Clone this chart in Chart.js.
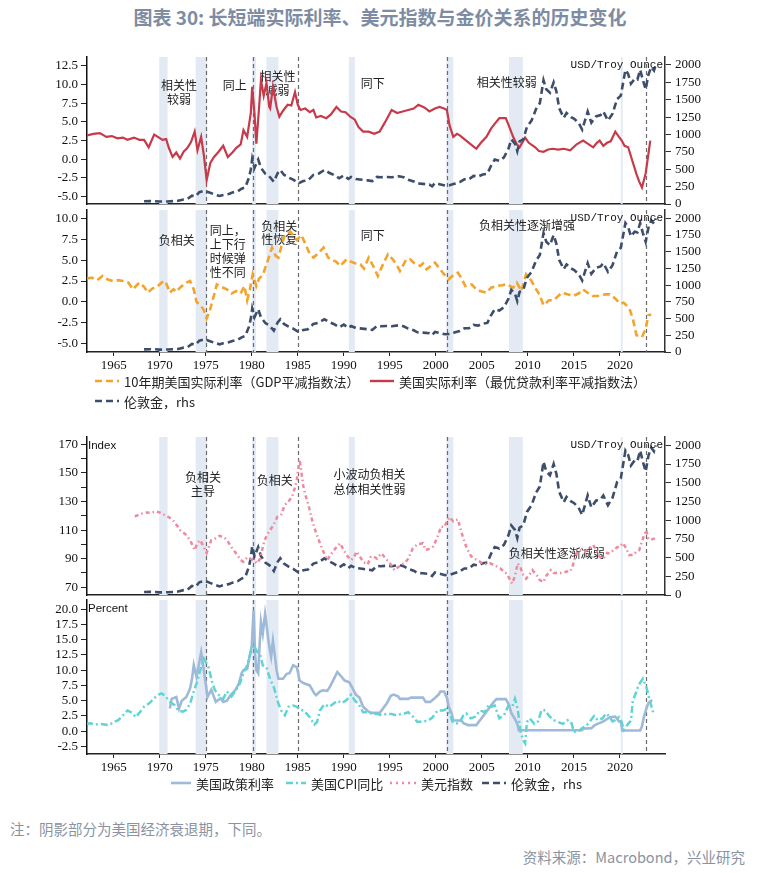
<!DOCTYPE html>
<html>
<head>
<meta charset="utf-8">
<script src="https://cdn.jsdelivr.net/npm/chart.js@4.4.1/dist/chart.umd.min.js"></script>
<style>
  body { margin: 0; background: #fff; width: 760px; height: 873px; position: relative; overflow: hidden; font-family: "Noto Sans CJK SC", sans-serif; }
  canvas { position: absolute; left: 0; }
  .title { position: absolute; top: 3px; left: 0; width: 760px; text-align: center; font-size: 19px; font-weight: bold; color: #7d8ca3; }
  .lg { position: absolute; display: flex; align-items: center; font-size: 13px; color: #222; white-space: nowrap; height: 16px; }
  .lg span { margin-left: 5px; }
  .note { position: absolute; font-size: 14.5px; color: #8a93a1; white-space: nowrap; }
</style>
</head>
<body>
<div class="title">图表 30: 长短端实际利率、美元指数与金价关系的历史变化</div>
<canvas id="p1" width="760" height="175" style="top:43px"></canvas>
<canvas id="p2" width="760" height="182" style="top:196px"></canvas>
<canvas id="p3" width="760" height="186" style="top:423px"></canvas>
<canvas id="p4" width="760" height="194" style="top:586px"></canvas>
<div id="legends"></div>
<div class="note" style="left:10px;top:818px">注：阴影部分为美国经济衰退期，下同。</div>
<div class="note" style="right:15px;top:846px">资料来源：Macrobond，兴业研究</div>
<script>
// x axis (years) and shared markers
const yearTicks = [1965, 1970, 1975, 1980, 1985, 1990, 1995, 2000, 2005, 2010, 2015, 2020];
const recessions = [[1969.95, 1970.85], [1973.9, 1975.15], [1980.05, 1980.45], [1981.6, 1982.9],
  [1990.55, 1991.2], [2001.15, 2001.9], [2007.95, 2009.45], [2020.1, 2020.3]];
const regimeLines = [1975.0, 1980.1, 1985.0, 2001.25, 2022.8];

// 伦敦金 USD/Troy Ounce
const goldPrice = [[1968.3,40],[1969.0,42],[1969.5,40],[1970.0,35],[1970.8,37],[1971.5,41],[1972.0,46],[1972.6,65],
  [1973.0,70],[1973.5,120],[1973.9,110],[1974.3,170],[1974.9,190],[1975.4,165],[1975.9,140],[1976.5,115],[1976.9,130],
  [1977.5,145],[1977.9,165],[1978.5,185],[1978.9,220],[1979.3,240],[1979.7,380],[1979.9,500],[1980.05,650],[1980.3,520],
  [1980.7,640],[1981.0,520],[1981.5,430],[1981.9,400],[1982.4,320],[1982.8,440],[1983.1,490],[1983.5,420],[1984.0,380],
  [1984.5,350],[1985.1,300],[1985.6,330],[1986.1,340],[1986.7,420],[1987.3,440],[1987.9,490],[1988.4,450],[1988.9,420],
  [1989.5,370],[1990.0,410],[1990.5,360],[1990.8,390],[1991.3,360],[1992.0,350],[1992.6,340],[1993.1,330],[1993.6,390],
  [1994.0,385],[1994.6,390],[1995.2,385],[1996.0,400],[1996.5,385],[1997.0,350],[1997.6,325],[1998.0,295],[1998.6,290],
  [1999.3,280],[1999.6,255],[1999.9,300],[2000.4,285],[2001.0,265],[2001.5,270],[2002.0,290],[2002.6,315],[2003.1,355],
  [2003.6,355],[2004.1,405],[2004.6,395],[2005.1,425],[2005.6,435],[2006.0,550],[2006.4,640],[2006.9,620],[2007.4,670],
  [2007.9,800],[2008.2,930],[2008.6,870],[2008.85,760],[2009.1,900],[2009.5,930],[2009.9,1110],[2010.4,1200],[2010.9,1370],
  [2011.3,1450],[2011.7,1780],[2012.0,1650],[2012.4,1600],[2012.8,1750],[2013.1,1620],[2013.4,1380],[2013.9,1240],
  [2014.2,1310],[2014.7,1250],[2015.0,1230],[2015.5,1170],[2015.9,1070],[2016.5,1330],[2016.9,1170],[2017.4,1260],
  [2017.9,1280],[2018.2,1330],[2018.7,1200],[2019.2,1300],[2019.7,1510],[2020.1,1560],[2020.6,1930],[2020.9,1870],
  [2021.2,1730],[2021.6,1800],[2021.9,1790],[2022.2,1930],[2022.5,1780],[2022.8,1650],[2023.1,1860],[2023.4,1970],
  [2023.7,1920],[2023.9,2000]];

// 美国实际利率（最优贷款利率平减指数法）
const realPrimeRate = [[1962.1,3.2],[1962.8,3.4],[1963.5,3.5],[1964.2,3.0],[1964.8,3.1],[1965.4,2.8],[1966.0,2.9],
  [1966.5,2.6],[1967.2,2.9],[1967.8,2.6],[1968.3,2.6],[1968.8,1.6],[1969.4,3.3],[1969.8,3.0],[1970.3,2.6],[1970.7,2.7],
  [1971.0,1.5],[1971.4,0.3],[1971.8,0.9],[1972.2,0.1],[1972.6,1.0],[1973.0,1.5],[1973.4,2.3],[1973.8,3.7],[1974.1,1.2],
  [1974.5,3.0],[1974.8,0.5],[1975.1,-2.8],[1975.5,-0.5],[1975.9,0.3],[1976.4,1.0],[1976.9,1.8],[1977.4,0.3],[1977.9,0.9],
  [1978.3,1.5],[1978.8,2.0],[1979.1,3.9],[1979.5,3.0],[1979.9,6.2],[1980.05,9.7],[1980.3,6.0],[1980.5,2.1],[1980.8,7.0],
  [1981.0,10.6],[1981.3,8.5],[1981.6,10.2],[1981.9,7.0],[1982.0,6.8],[1982.3,9.7],[1982.7,7.0],[1983.0,5.7],[1983.4,6.5],
  [1983.9,7.3],[1984.3,7.2],[1984.7,9.0],[1985.0,7.3],[1985.3,6.6],[1985.8,6.8],[1986.3,6.3],[1986.7,6.6],[1987.0,5.6],
  [1987.5,5.8],[1988.1,5.5],[1988.6,6.0],[1989.2,7.0],[1989.7,6.4],[1990.2,6.3],[1990.7,5.7],[1991.2,5.3],[1991.6,4.3],
  [1992.1,3.7],[1992.7,3.7],[1993.3,3.4],[1993.9,3.7],[1994.5,5.0],[1995.2,6.6],[1995.8,6.2],[1996.4,6.4],[1997.0,6.6],
  [1997.6,6.8],[1998.1,7.3],[1998.8,6.9],[1999.3,6.4],[1999.9,6.8],[2000.4,7.0],[2000.9,6.8],[2001.2,6.6],[2001.5,4.5],
  [2001.9,3.0],[2002.3,3.4],[2002.6,3.2],[2003.2,2.6],[2003.8,2.0],[2004.4,1.4],[2004.9,2.2],[2005.5,3.0],[2006.0,4.1],
  [2006.5,4.9],[2006.9,5.5],[2007.6,5.5],[2007.9,4.6],[2008.4,3.0],[2008.8,2.0],[2009.1,1.6],[2009.7,2.9],[2010.1,2.2],
  [2010.8,1.6],[2011.2,1.1],[2011.7,1.0],[2012.2,1.3],[2012.7,1.4],[2013.3,1.3],[2013.9,1.4],[2014.6,1.2],[2015.3,2.0],
  [2016.0,2.5],[2016.5,2.1],[2017.1,1.6],[2017.5,2.2],[2017.8,2.5],[2018.2,1.8],[2018.6,2.2],[2019.0,2.4],[2019.5,3.7],
  [2019.9,3.0],[2020.2,2.5],[2020.5,1.8],[2020.9,1.6],[2021.3,0.0],[2021.8,-2.0],[2022.1,-3.0],[2022.4,-3.8],
  [2022.8,-1.9],[2023.3,2.5]];

// 10年期美国实际利率（GDP平减指数法）
const realTenYear = [[1962.1,2.8],[1962.6,2.9],[1963.2,2.6],[1963.8,3.1],[1964.3,2.7],[1964.9,2.5],[1965.5,2.6],
  [1966.0,2.5],[1966.6,2.3],[1967.1,1.5],[1967.5,2.0],[1967.8,2.3],[1968.3,1.8],[1968.7,1.1],[1969.2,1.6],[1969.7,1.8],
  [1970.2,2.3],[1970.6,2.5],[1971.1,1.1],[1971.5,1.5],[1971.8,1.2],[1972.2,1.7],[1972.7,2.2],[1973.3,2.5],[1973.7,1.5],
  [1974.0,0.0],[1974.5,-0.5],[1974.8,-1.0],[1975.1,-2.0],[1975.4,-1.2],[1975.6,-0.4],[1976.0,1.2],[1976.2,2.1],
  [1976.7,1.8],[1977.3,1.5],[1977.8,1.0],[1978.3,1.3],[1978.8,1.0],[1979.2,1.9],[1979.5,0.2],[1979.8,1.5],[1980.1,3.3],
  [1980.5,1.9],[1980.8,2.8],[1981.2,3.2],[1981.6,4.5],[1982.0,5.8],[1982.2,6.5],[1982.6,5.5],[1982.9,5.3],[1983.3,7.0],
  [1983.6,8.0],[1984.2,8.4],[1984.6,7.8],[1984.9,7.4],[1985.4,8.0],[1985.8,7.0],[1986.2,6.0],[1986.7,5.3],[1987.2,5.8],
  [1987.8,6.5],[1988.3,5.3],[1988.8,5.0],[1989.2,4.8],[1989.6,4.3],[1990.3,5.1],[1990.8,4.8],[1991.3,4.6],[1991.8,4.5],
  [1992.2,4.0],[1992.7,5.3],[1993.2,4.3],[1993.7,3.1],[1994.3,4.6],[1994.8,5.7],[1995.4,5.0],[1995.9,4.1],[1996.1,3.7],
  [1996.8,5.1],[1997.2,5.1],[1997.7,4.6],[1998.3,4.3],[1998.6,4.6],[1999.0,3.9],[1999.9,4.7],[2000.4,4.0],[2000.9,3.3],
  [2001.4,2.7],[2001.9,3.2],[2002.4,3.5],[2002.8,2.8],[2003.2,1.9],[2003.9,2.1],[2004.4,1.5],[2004.8,1.3],[2005.5,1.1],
  [2006.0,1.7],[2006.6,1.9],[2007.2,2.0],[2007.7,2.1],[2008.4,1.7],[2008.8,2.3],[2009.3,1.3],[2009.8,3.3],[2010.4,2.5],
  [2010.9,1.5],[2011.3,0.8],[2011.7,-0.4],[2012.3,0.2],[2012.8,0.2],[2013.2,0.6],[2013.7,1.1],[2014.3,0.9],[2014.9,0.7],
  [2015.5,1.0],[2016.0,1.5],[2016.6,1.0],[2017.1,0.7],[2017.8,0.7],[2018.4,0.9],[2018.9,0.9],[2019.5,0.4],[2020.0,-0.2],
  [2020.4,-0.1],[2020.7,-0.4],[2021.1,-1.0],[2021.4,-2.0],[2021.8,-4.0],[2022.4,-4.2],[2022.8,-3.2],[2023.1,-1.6],
  [2023.4,-1.5]];

// 美元指数 Index
const dollarIndex = [[1967.3,119.5],[1967.8,121],[1968.5,122.3],[1969.0,122],[1969.6,123],[1970.1,122],[1970.5,120.7],
  [1971.0,119],[1971.4,117.2],[1971.9,113],[1972.2,110.1],[1972.8,107],[1973.3,103],[1973.8,96],[1974.1,101],[1974.4,103],
  [1974.8,98],[1975.1,94],[1975.6,103],[1976.0,104],[1976.5,106],[1977.0,105],[1977.3,103],[1977.8,98],[1978.3,93.7],
  [1978.8,89],[1979.1,87.8],[1979.5,91],[1979.8,90.2],[1980.2,89],[1980.6,86.7],[1980.9,90],[1981.2,98],[1981.4,103],
  [1981.7,107],[1982.0,110],[1982.4,114],[1982.8,119.5],[1983.2,121],[1983.6,127.7],[1984.0,130],[1984.4,133.6],
  [1984.7,140],[1984.9,145.4],[1985.2,159.4],[1985.4,150],[1985.6,140.6],[1985.9,133],[1986.2,126.5],[1986.6,116],
  [1987.0,107.8],[1987.4,101],[1987.7,96],[1988.0,92],[1988.2,89],[1988.5,92],[1988.8,94.9],[1989.2,98],[1989.6,100.8],
  [1989.9,97],[1990.3,92.5],[1990.8,89],[1991.1,91],[1991.4,95],[1991.8,91],[1992.1,87.8],[1992.6,86],[1992.9,91],
  [1993.2,91.8],[1993.6,90],[1994.1,93.7],[1994.7,89],[1995.1,86],[1995.5,82],[1995.9,84],[1996.3,86],[1996.6,86.7],
  [1997.0,90],[1997.5,97.2],[1998.0,100],[1998.6,100.8],[1998.9,96],[1999.3,97],[1999.7,98.4],[2000.1,104],[2000.6,112.5],
  [2000.9,112],[2001.2,116],[2001.5,119.1],[2001.9,116],[2002.4,117.5],[2002.8,108],[2003.3,98.4],[2003.8,92],[2004.2,90],
  [2004.8,87.8],[2005.3,86],[2005.9,86.7],[2006.5,85],[2007.0,83.2],[2007.4,81],[2007.7,79.6],[2008.0,76],[2008.3,72.6],
  [2008.6,78],[2008.9,86.7],[2009.2,84],[2009.4,79.6],[2009.8,76],[2010.2,79],[2010.5,82],[2011.0,78],[2011.3,75],
  [2011.7,73.7],[2012.0,78],[2012.5,82],[2012.8,80],[2013.3,80],[2013.8,80],[2014.2,81],[2014.6,81],[2014.9,85.5],
  [2015.2,93],[2015.6,96],[2016.2,95],[2016.6,97],[2017.1,99.6],[2017.5,95],[2017.8,91.3],[2018.2,90],[2018.6,94],
  [2018.9,93.7],[2019.3,96],[2019.7,98],[2020.0,98.4],[2020.3,101],[2020.7,97.2],[2021.0,92.5],[2021.4,92.5],
  [2021.8,94.9],[2022.1,96],[2022.5,104],[2022.85,110.1],[2023.1,104],[2023.3,103.1],[2023.8,104.2]];

// 美国CPI同比 Percent
const cpiYoY = [[1962.0,1.2],[1962.5,1.3],[1963.0,1.1],[1963.5,1.2],[1964.0,1.1],[1964.5,1.0],[1965.0,1.5],[1965.5,1.8],
  [1966.0,2.6],[1966.5,3.4],[1967.0,3.0],[1967.4,2.3],[1967.9,3.2],[1968.3,4.0],[1968.9,4.6],[1969.4,5.4],[1969.9,6.0],
  [1970.2,6.2],[1970.6,5.8],[1971.1,4.8],[1971.6,4.3],[1972.0,3.4],[1972.5,3.2],[1972.9,3.5],[1973.3,4.5],[1973.7,6.5],
  [1974.0,7.8],[1974.4,10.0],[1974.8,11.9],[1975.3,10.5],[1975.7,8.0],[1976.0,6.7],[1976.5,5.8],[1976.9,5.3],[1977.3,6.5],
  [1977.8,5.7],[1978.3,6.8],[1978.7,7.8],[1979.1,9.5],[1979.5,10.8],[1979.9,13.0],[1980.2,14.1],[1980.6,13.0],[1980.9,12.6],
  [1981.2,10.8],[1981.6,10.5],[1982.0,8.5],[1982.4,7.2],[1982.9,4.5],[1983.2,3.4],[1983.6,2.6],[1984.0,4.0],[1984.5,4.2],
  [1984.9,4.0],[1985.2,3.6],[1985.7,3.3],[1986.3,2.3],[1986.8,1.1],[1987.1,1.5],[1987.4,3.4],[1987.9,4.4],[1988.4,4.0],
  [1988.8,4.4],[1989.3,5.0],[1989.8,4.6],[1990.3,5.1],[1990.8,6.0],[1991.2,5.0],[1991.6,4.5],[1992.1,3.1],[1992.6,3.1],
  [1993.2,2.8],[1993.7,2.8],[1994.1,2.6],[1994.6,2.8],[1995.2,2.8],[1995.7,2.6],[1996.2,2.8],[1996.6,2.9],[1997.0,3.1],
  [1997.5,2.4],[1998.0,1.5],[1998.5,1.6],[1999.1,1.7],[1999.6,2.2],[2000.2,3.4],[2000.8,3.4],[2001.1,3.6],[2001.5,2.9],
  [2001.8,1.6],[2002.2,1.2],[2002.6,1.5],[2003.0,2.6],[2003.3,2.9],[2003.8,2.1],[2004.3,2.4],[2004.8,3.4],[2005.3,3.1],
  [2005.8,4.4],[2006.0,4.0],[2006.4,4.2],[2006.9,2.1],[2007.4,2.6],[2007.9,4.2],[2008.3,4.0],[2008.6,5.3],[2008.9,3.6],
  [2009.2,0.0],[2009.5,-1.5],[2009.7,-2.0],[2009.9,1.5],[2010.2,2.1],[2010.7,1.2],[2011.1,1.6],[2011.5,3.5],[2011.9,3.4],
  [2012.3,2.5],[2012.8,1.8],[2013.3,1.5],[2013.8,1.2],[2014.3,1.8],[2014.7,1.5],[2015.0,-0.1],[2015.5,0.0],[2015.9,0.5],
  [2016.3,0.8],[2016.7,1.5],[2017.2,2.5],[2017.6,1.8],[2018.1,2.1],[2018.5,2.9],[2018.8,2.5],[2019.2,1.6],[2019.5,1.8],
  [2019.9,2.3],[2020.2,1.5],[2020.4,0.2],[2020.9,1.2],[2021.2,1.7],[2021.4,5.0],[2021.8,6.5],[2022.0,7.5],[2022.5,8.6],
  [2022.9,7.1],[2023.2,5.3],[2023.6,3.1]];

// 美国政策利率 Percent
const policyRate = [[1971.1,3.7],[1971.3,5.3],[1971.8,5.6],[1972.1,3.7],[1972.4,5.0],[1972.9,5.6],[1973.3,7.0],
  [1973.5,8.5],[1973.7,10.8],[1974.0,8.9],[1974.5,12.9],[1974.8,9.9],[1975.2,5.6],[1975.6,6.8],[1976.1,4.8],[1976.6,5.4],
  [1976.9,4.8],[1977.3,5.0],[1977.7,5.9],[1978.2,6.7],[1978.6,7.8],[1978.9,9.5],[1979.1,10.0],[1979.5,10.2],[1979.8,12.5],
  [1980.0,14.0],[1980.2,19.8],[1980.35,13.0],[1980.5,10.0],[1980.7,9.5],[1980.85,14.0],[1981.0,17.9],[1981.2,16.0],
  [1981.45,19.2],[1981.6,17.5],[1981.8,15.0],[1982.0,13.0],[1982.1,12.2],[1982.3,14.8],[1982.5,12.5],[1982.7,10.0],
  [1982.9,8.6],[1983.4,8.6],[1983.8,9.4],[1984.1,9.5],[1984.5,10.8],[1984.9,10.5],[1985.2,8.3],[1985.6,7.9],[1986.3,7.5],
  [1986.8,6.2],[1987.0,5.9],[1987.4,6.5],[1987.7,6.7],[1988.2,6.6],[1988.5,7.3],[1988.9,8.5],[1989.3,9.7],[1989.7,9.0],
  [1990.1,8.3],[1990.6,8.0],[1990.9,7.2],[1991.3,6.0],[1991.7,5.5],[1992.1,4.0],[1992.6,3.3],[1993.0,3.0],[1993.9,3.0],
  [1994.3,3.8],[1994.7,4.6],[1995.1,5.8],[1995.4,6.0],[1995.9,5.7],[1996.1,5.3],[1997.0,5.3],[1997.3,5.5],[1998.6,5.5],
  [1998.9,4.8],[1999.4,4.8],[1999.8,5.3],[2000.3,6.0],[2000.5,6.5],[2000.9,6.5],[2001.2,5.5],[2001.4,4.0],[2001.7,3.0],
  [2001.9,1.8],[2002.8,1.7],[2003.0,1.3],[2003.5,1.0],[2004.4,1.0],[2004.8,1.8],[2005.3,2.8],[2005.8,3.8],[2006.3,4.8],
  [2006.6,5.25],[2007.6,5.25],[2007.9,4.5],[2008.2,3.0],[2008.6,2.0],[2008.9,1.0],[2009.0,0.15],[2015.9,0.15],[2016.0,0.4],
  [2016.9,0.5],[2017.2,0.9],[2017.5,1.15],[2017.9,1.4],[2018.2,1.6],[2018.5,1.9],[2018.9,2.3],[2019.5,2.4],[2019.7,2.0],
  [2019.9,1.6],[2020.1,1.6],[2020.25,0.1],[2022.2,0.1],[2022.4,0.8],[2022.6,2.3],[2022.9,3.8],[2023.1,4.6],[2023.5,5.1]];

// axis ticks
const rateTicks = [-5, -2.5, 0, 2.5, 5, 7.5, 10, 12.5];
const indexTicks = [70, 80, 90, 100, 110, 120, 130, 140, 150, 160, 170];
const percentTicks = [-2.5, 0, 2.5, 5, 7.5, 10, 12.5, 15, 17.5, 20];
const goldTicks = [0, 250, 500, 750, 1000, 1250, 1500, 1750, 2000];

const tickFont = { family: 'Liberation Serif', size: 13 };
const X_MIN = 1962.1, X_MAX = 2024.9;
const PLOT_LEFT = 87, PLOT_RIGHT = 665, CANVAS_W = 760;

const toXY = arr => arr.map(([x, y]) => ({ x, y }));

function decor(notes, opts) {
  return {
    id: 'decor',
    beforeDatasetsDraw(chart) {
      const { ctx, chartArea: a, scales: { x, y } } = chart;
      ctx.save();
      ctx.fillStyle = '#e3eaf4';
      recessions.forEach(([s, e]) => {
        const x0 = x.getPixelForValue(s), x1 = x.getPixelForValue(e);
        ctx.fillRect(x0, a.top, Math.max(x1 - x0, 1.5), a.bottom - a.top);
      });
      ctx.strokeStyle = '#6b6b6b';
      ctx.lineWidth = 1.2;
      ctx.setLineDash([4, 3]);
      regimeLines.forEach(m => {
        const px = Math.round(x.getPixelForValue(m)) + 0.5;
        ctx.beginPath();
        ctx.moveTo(px, a.top);
        ctx.lineTo(px, a.bottom);
        ctx.stroke();
      });
      ctx.setLineDash([]);
      ctx.font = '12px "Noto Sans CJK SC"';
      ctx.fillStyle = '#222';
      ctx.textAlign = 'center';
      ctx.textBaseline = 'middle';
      notes.forEach(n => {
        const px = x.getPixelForValue(n.x), py = y.getPixelForValue(n.y);
        n.lines.forEach((t, i) => ctx.fillText(t, px, py + i * (n.lh || 14)));
      });
      ctx.restore();
    },
    afterDraw(chart) {
      const { ctx, chartArea: a } = chart;
      ctx.save();
      ctx.fillStyle = '#111';
      ctx.textBaseline = 'middle';
      if (opts.rightTitle) {
        ctx.font = '11px "Liberation Mono", monospace';
        ctx.textAlign = 'right';
        ctx.fillText(opts.rightTitle, a.right - 2, a.top + 8);
      }
      if (opts.leftTitle) {
        ctx.font = '11.5px "Liberation Sans", sans-serif';
        ctx.textAlign = 'left';
        ctx.fillText(opts.leftTitle, a.left + 1, a.top + 9);
      }
      ctx.restore();
    }
  };
}

function makePanel(id, cfg) {
  const scales = {
    x: {
      type: 'linear', min: X_MIN, max: X_MAX,
      afterBuildTicks: s => { s.ticks = yearTicks.map(v => ({ value: v })); },
      ticks: { display: cfg.xLabels, autoSkip: false, font: tickFont, color: '#111', maxRotation: 0, padding: 2, callback: v => String(v) },
      grid: { display: true, drawOnChartArea: false, drawTicks: cfg.xLabels, tickLength: 4, color: '#222' },
      border: { display: true, color: '#222', width: 1.5 },
      afterFit: s => { s.height = cfg.xHeight; }
    },
    y: {
      position: 'left', min: cfg.yMin, max: cfg.yMax,
      afterBuildTicks: s => { s.ticks = cfg.yTicks.map(v => ({ value: v })); },
      ticks: { autoSkip: false, font: tickFont, color: '#111', padding: 3, callback: cfg.yLabel },
      grid: { display: true, drawOnChartArea: false, tickLength: 6, color: '#222' },
      border: { display: true, color: '#111', width: 1.5 },
      afterFit: s => { s.width = PLOT_LEFT; }
    }
  };
  if (cfg.goldMax) {
    scales.y1 = {
      position: 'right', min: 0, max: cfg.goldMax,
      afterBuildTicks: s => { s.ticks = goldTicks.map(v => ({ value: v })); },
      ticks: { autoSkip: false, font: tickFont, color: '#111', padding: 4, callback: v => String(v) },
      grid: { display: true, drawOnChartArea: false, tickLength: 6, color: '#333' },
      border: { display: true, color: '#333', width: 1.5 },
      afterFit: s => { s.width = CANVAS_W - PLOT_RIGHT; }
    };
  }
  return new Chart(document.getElementById(id), {
    type: 'line',
    data: { datasets: cfg.datasets },
    options: {
      responsive: false,
      animation: false,
      devicePixelRatio: 1,
      layout: { padding: { top: 14, left: 0, right: cfg.goldMax ? 0 : CANVAS_W - PLOT_RIGHT, bottom: 0 } },
      elements: { point: { radius: 0 }, line: { tension: 0 } },
      plugins: { legend: { display: false }, tooltip: { enabled: false } },
      scales
    },
    plugins: [decor(cfg.notes, cfg)]
  });
}

const goldSet = () => ({ label: '伦敦金，rhs', data: toXY(goldPrice), yAxisID: 'y1', borderColor: '#3d4e6b', borderWidth: 2.6, borderDash: [7, 4] });
const oneDecimal = v => v.toFixed(1);

makePanel('p1', {
  yMin: -6.0, yMax: 13.7, yTicks: rateTicks, yLabel: oneDecimal, goldMax: 2115, xLabels: false, xHeight: 14,
  rightTitle: 'USD/Troy Ounce',
  notes: [
    { x: 1972.1, y: 9.9, lines: ['相关性', '较弱'] },
    { x: 1978.15, y: 9.9, lines: ['同上'] },
    { x: 1982.8, y: 11.15, lines: ['相关性', '减弱'] },
    { x: 1993.15, y: 10.2, lines: ['同下'] },
    { x: 2007.7, y: 10.35, lines: ['相关性较弱'] }
  ],
  datasets: [
    goldSet(),
    { label: '美国实际利率（最优贷款利率平减指数法）', data: toXY(realPrimeRate), yAxisID: 'y', borderColor: '#c63a49', borderWidth: 2.2 }
  ]
});

makePanel('p2', {
  yMin: -6.0, yMax: 11.0, yTicks: rateTicks.slice(0, 7), yLabel: oneDecimal, goldMax: 2125, xLabels: true, xHeight: 26,
  rightTitle: 'USD/Troy Ounce',
  notes: [
    { x: 1971.85, y: 7.3, lines: ['负相关'] },
    { x: 1977.4, y: 8.6, lines: ['同上，', '上下行', '时候弹', '性不同'] },
    { x: 1983.0, y: 9.0, lines: ['负相关', '性恢复'], lh: 13 },
    { x: 1993.15, y: 8.0, lines: ['同下'] },
    { x: 2009.9, y: 9.2, lines: ['负相关性逐渐增强'] }
  ],
  datasets: [
    goldSet(),
    { label: '10年期美国实际利率（GDP平减指数法）', data: toXY(realTenYear), yAxisID: 'y', borderColor: '#f2a42c', borderWidth: 2.6, borderDash: [7, 4] }
  ]
});

makePanel('p3', {
  yMin: 64.6, yMax: 175.1, yTicks: indexTicks, yLabel: v => ((v - 70) % 20 === 0 ? String(v) : ''), goldMax: 2111,
  xLabels: false, xHeight: 14, rightTitle: 'USD/Troy Ounce', leftTitle: 'Index',
  notes: [
    { x: 1974.7, y: 147, lines: ['负相关', '主导'] },
    { x: 1982.5, y: 145, lines: ['负相关'] },
    { x: 1992.8, y: 149, lines: ['小波动负相关', '总体相关性弱'], lh: 15 },
    { x: 2013.15, y: 94, lines: ['负相关性逐渐减弱'] }
  ],
  datasets: [
    { label: '美元指数', data: toXY(dollarIndex), yAxisID: 'y', borderColor: '#ee8a9d', borderWidth: 2.5, borderDash: [4, 3, 1.5, 3] },
    goldSet()
  ]
});

makePanel('p4', {
  yMin: -3.74, yMax: 21.5, yTicks: percentTicks, yLabel: oneDecimal, goldMax: 0, xLabels: true, xHeight: 26,
  leftTitle: 'Percent',
  notes: [],
  datasets: [
    { label: '美国CPI同比', data: toXY(cpiYoY), yAxisID: 'y', borderColor: '#5ed4d5', borderWidth: 2.5, borderDash: [7, 3, 2, 3] },
    { label: '美国政策利率', data: toXY(policyRate), yAxisID: 'y', borderColor: '#9fb9d8', borderWidth: 2.6 }
  ]
});

// legends
const legendItems = [
  { x: 95, y: 381, text: '10年期美国实际利率（GDP平减指数法）', color: '#f2a42c', dash: '7 4', w: 2.6, len: 24 },
  { x: 370, y: 381, text: '美国实际利率（最优贷款利率平减指数法）', color: '#c63a49', dash: '', w: 2.4, len: 24 },
  { x: 95, y: 401, text: '伦敦金，rhs', color: '#3d4e6b', dash: '7 4', w: 2.6, len: 24 },
  { x: 171, y: 783, text: '美国政策利率', color: '#9fb9d8', dash: '', w: 2.6, len: 20 },
  { x: 286, y: 783, text: '美国CPI同比', color: '#5ed4d5', dash: '7 3 2 3', w: 2.5, len: 20 },
  { x: 390, y: 783, text: '美元指数', color: '#ee8a9d', dash: '2 4', w: 2.5, len: 26 },
  { x: 482, y: 783, text: '伦敦金，rhs', color: '#3d4e6b', dash: '7 4', w: 2.6, len: 24 }
];
const holder = document.getElementById('legends');
legendItems.forEach(it => {
  const d = document.createElement('div');
  d.className = 'lg';
  d.style.left = it.x + 'px';
  d.style.top = (it.y - 8) + 'px';
  d.innerHTML = `<svg width="${it.len}" height="16"><line x1="0" y1="8" x2="${it.len}" y2="8" stroke="${it.color}" stroke-width="${it.w}" stroke-dasharray="${it.dash}"/></svg><span>${it.text}</span>`;
  holder.appendChild(d);
});
</script>
</body>
</html>
